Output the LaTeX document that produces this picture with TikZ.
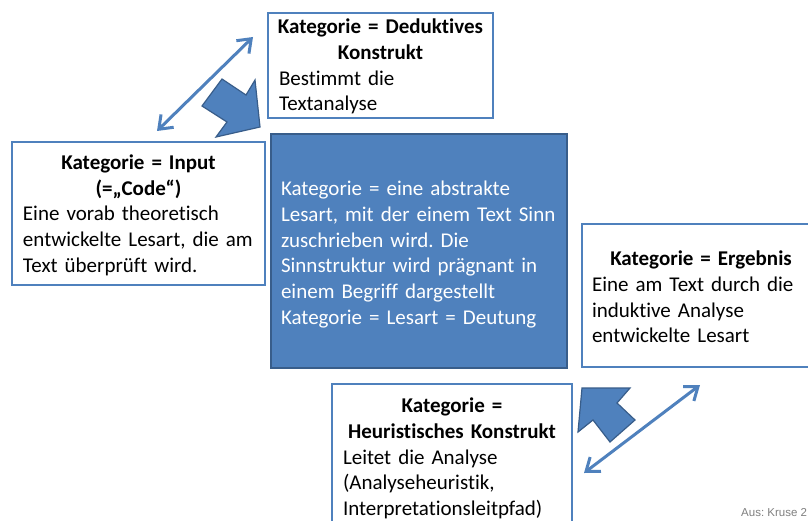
\documentclass[tikz,border=0pt]{standalone}
\usepackage{fontspec}
\setmainfont{Carlito}[Ligatures=NoCommon]
\newfontfamily\credfont{Liberation Sans}
\usetikzlibrary{arrows.meta}
\definecolor{boxblue}{HTML}{4F81BD}
\definecolor{darkblue}{HTML}{385D8A}
\definecolor{credgray}{HTML}{808080}
\newcommand\ctr[1]{\makebox[0pt]{#1}}
\frenchspacing
\begin{document}
\begin{tikzpicture}[x=1pt,y=-1pt,
  box/.style={draw=boxblue, line width=2.2pt, fill=white, inner sep=0pt},
  catbox/.style={box, fill=boxblue, draw=darkblue},
  txt/.style={inner sep=0pt, align=left, font=\fontsize{21}{25.8}\selectfont\frenchspacing},
  dbl/.style={draw=boxblue, line width=3pt,
    {Straight Barb[length=12pt,width=18pt]}-{Straight Barb[length=12pt,width=18pt]}},
  blockarrow/.style={fill=boxblue, draw=darkblue, line width=1.2pt, line join=miter},
  credit/.style={anchor=base west, inner sep=0pt, text=credgray, font=\credfont\fontsize{11.5}{14}\selectfont}]
\clip (0,0) rectangle (808,521);
\fill[white] (0,0) rectangle (808,521);

% block arrows
\draw[blockarrow] (202,106) -- (222,79) -- (246,95) -- (255,80) -- (260,127) -- (216,137) -- (227,122) -- cycle;
\draw[blockarrow] (582,388) -- (630,388) -- (617,403) -- (635,420) -- (610,442) -- (593,420) -- (578,432) -- cycle;

% boxes
\node[box, minimum width=225pt, minimum height=105pt] (ded) at (380.5,65.5) {};
\node[txt, text width=203pt] (dedt) at ([yshift=-1pt]ded.center)
  {{\centering\bfseries\ctr{Kategorie = Deduktives}\\\ctr{Konstrukt}\par}Bestimmt die\\Textanalyse};

\node[box, minimum width=253pt, minimum height=143pt] (inp) at (138.5,213.3) {};
\node[txt, text width=231pt] (inpt) at ([yshift=-2pt]inp.center)
  {{\centering\bfseries\ctr{Kategorie = Input}\\\ctr{(=„Code“)}\par}Eine vorab theoretisch\\entwickelte Lesart, die am\\Text überprüft wird.};

\node[catbox, minimum width=296pt, minimum height=234pt] (cat) at (419,251) {};
\node[txt, text=white, text width=276pt] (catt) at ([yshift=-3.5pt]cat.center)
  {Kategorie = eine abstrakte\\Lesart, mit der einem Text Sinn\\zuschrieben wird. Die\\Sinnstruktur wird prägnant in\\einem Begriff dargestellt\\Kategorie = Lesart = Deutung};

\node[box, minimum width=238pt, minimum height=143pt] (erg) at (701,295.5) {};
\node[txt, text width=218pt] (ergt) at ([yshift=-1.5pt]erg.center)
  {{\centering\bfseries\ctr{Kategorie = Ergebnis}\par}Eine am Text durch die\\induktive Analyse\\entwickelte Lesart};

\node[box, minimum width=240pt, minimum height=147pt] (heu) at (452,457.5) {};
\node[txt, text width=218pt] (heut) at ([yshift=-1pt]heu.center)
  {{\centering\bfseries\ctr{Kategorie =}\\\ctr{Heuristisches Konstrukt}\par}Leitet die Analyse\\(Analyseheuristik,\\Interpretationsleitpfad)};

% double arrows
\coordinate (a1) at (157,131);
\coordinate (a2) at (253,37);
\coordinate (b1) at (584,473);
\coordinate (b2) at (700,385);
\draw[dbl] (a1) -- (a2);
\draw[dbl] (b1) -- (b2);

\node[credit] (cred) at (741,516) {Aus: Kruse 2};
\end{tikzpicture}
\end{document}
